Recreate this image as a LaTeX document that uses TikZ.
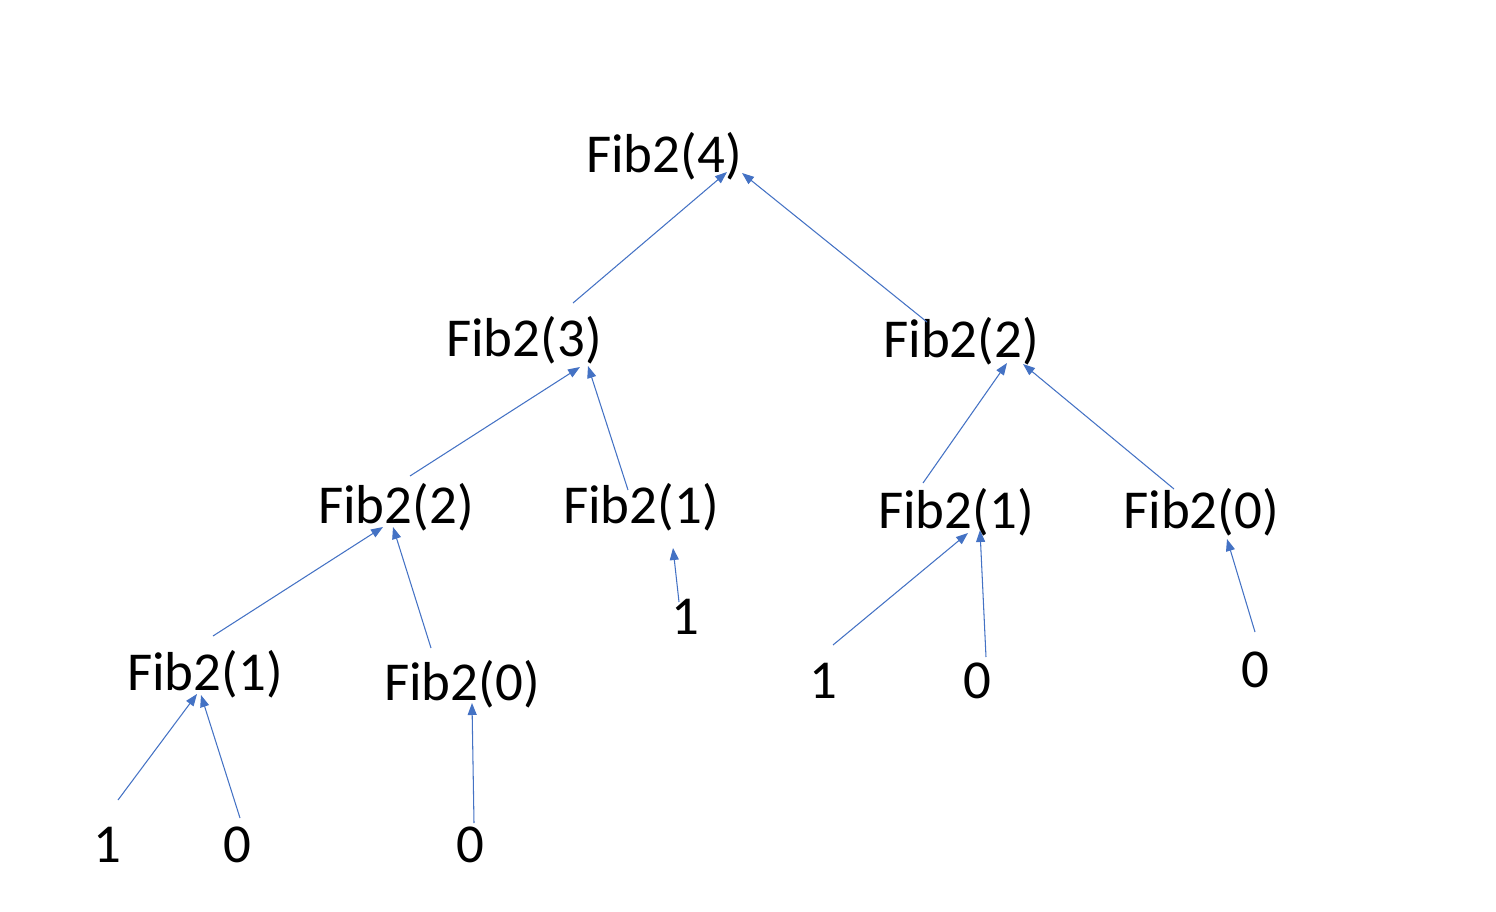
\documentclass[tikz,border=0pt]{standalone}
\usepackage{fontspec}
\setmainfont{Carlito}
\usetikzlibrary{arrows.meta}
\definecolor{linkblue}{HTML}{4472C4}
\tikzset{
  call/.style={anchor=base, inner sep=0pt, font=\fontsize{15.6}{18}\selectfont},
  link/.style={draw=linkblue, line width=0.3pt, -{Triangle[length=0.12cm,width=0.09cm]}}
}
\begin{document}
\begin{tikzpicture}[x=0.01cm, y=-0.01cm]
        \useasboundingbox (0,0) rectangle (1496,912);

        % 调用节点
        \node[call] (f4)  at (664,172) {Fib2(4)};
        \node[call] (f3)  at (524,356) {Fib2(3)};
        \node[call] (f2r) at (961,357) {Fib2(2)};
        \node[call] (f2l) at (396,523) {Fib2(2)};
        \node[call] (f1m) at (641,523) {Fib2(1)};
        \node[call] (f1r) at (956,528) {Fib2(1)};
        \node[call] (f0r) at (1201,528) {Fib2(0)};
        \node[call] (f1l) at (205,690) {Fib2(1)};
        \node[call] (f0l) at (462,700) {Fib2(0)};

        % 返回值
        \node[call] (v1m) at (685,634) {1};
        \node[call] (v1r) at (823,698) {1};
        \node[call] (v0r) at (977,698) {0};
        \node[call] (v0f) at (1255,687) {0};
        \node[call] (v1b) at (107,862) {1};
        \node[call] (v0b) at (237,862) {0};
        \node[call] (v0c) at (470,862) {0};

        % 子调用指向父调用
        \draw[link] ([shift={(49,-53)}]f3.base) -- ([shift={(63,0)}]f4.base);
        \draw[link] ([shift={(-34,-35)}]f2r.base) -- ([shift={(78,1)}]f4.base);
        \draw[link] ([shift={(14,-47)}]f2l.base) -- ([shift={(56,11)}]f3.base);
        \draw[link] ([shift={(-13,-33)}]f1m.base) -- ([shift={(64,10)}]f3.base);
        \draw[link] ([shift={(-33,-45)}]f1r.base) -- ([shift={(46,6)}]f2r.base);
        \draw[link] ([shift={(-27,-39)}]f0r.base) -- ([shift={(62,7)}]f2r.base);
        \draw[link] ([shift={(8,-54)}]f1l.base) -- ([shift={(-13,4)}]f2l.base);
        \draw[link] ([shift={(-31,-52)}]f0l.base) -- ([shift={(-3,4)}]f2l.base);

        % 返回值指向调用
        \draw[link] ([shift={(-6,-32)}]v1m.base) -- ([shift={(32,25)}]f1m.base);
        \draw[link] ([shift={(10,-53)}]v1r.base) -- ([shift={(12,5)}]f1r.base);
        \draw[link] ([shift={(9,-41)}]v0r.base) -- ([shift={(24,2)}]f1r.base);
        \draw[link] ([shift={(0,-55)}]v0f.base) -- ([shift={(26,11)}]f0r.base);
        \draw[link] ([shift={(11,-62)}]v1b.base) -- ([shift={(-8,4)}]f1l.base);
        \draw[link] ([shift={(3,-44)}]v0b.base) -- ([shift={(-4,5)}]f1l.base);
        \draw[link] ([shift={(4,-39)}]v0c.base) -- ([shift={(10,3)}]f0l.base);
    \end{tikzpicture}
\end{document}
